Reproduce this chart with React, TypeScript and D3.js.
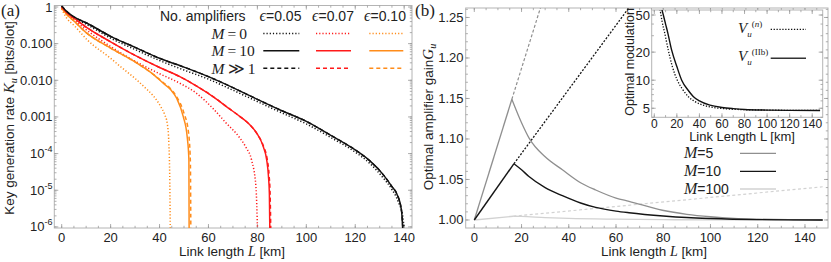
import React from "react";
import * as d3 from "d3";

// ---------------- Panel (a): key generation rate ----------------
const aXTicks = [0, 20, 40, 60, 80, 100, 120, 140];
const aYTicks = [1, 0.1, 0.01, 0.001, 1e-4, 1e-5, 1e-6];
const aYTickLabels = ["1", "0.100", "0.010", "0.001", "10^-4", "10^-5", "10^-6"];
const epsLabels = ["0.05", "0.07", "0.10"];
const ampLabels = ["0", "10", "≫1"];

// eps = 0.05
const lenE05M0 = [0, 2, 5, 10, 20, 30, 40, 50, 60, 70, 80, 90, 100, 110, 120, 126, 131, 135, 137.5, 139.5, 140.2];
const logKE05M0 = [0.0, -0.15, -0.3, -0.47, -0.85, -1.16, -1.46, -1.72, -1.97, -2.27, -2.58, -2.89, -3.19, -3.56, -3.96, -4.27, -4.63, -4.98, -5.3, -5.75, -6.2];
const lenE05M10 = [0, 2, 5, 10, 20, 30, 40, 50, 60, 70, 80, 90, 100, 110, 120, 126, 131, 135, 137, 138.9, 139.5];
const logKE05M10 = [0.03, -0.12, -0.27, -0.43, -0.8, -1.1, -1.4, -1.64, -1.9, -2.2, -2.52, -2.83, -3.12, -3.5, -3.9, -4.2, -4.54, -4.9, -5.1, -5.55, -6.2];
const lenE05Minf = [0, 2, 5, 10, 20, 30, 40, 50, 60, 70, 80, 90, 100, 110, 120, 126, 131, 135, 137, 138.9, 139.6];
const logKE05Minf = [0.03, -0.12, -0.27, -0.43, -0.8, -1.1, -1.4, -1.64, -1.9, -2.2, -2.52, -2.83, -3.12, -3.5, -3.9, -4.2, -4.54, -4.9, -5.1, -5.55, -6.2];
// eps = 0.07
const lenE07M0 = [0, 5, 10, 20, 30, 40, 48.3, 55, 62, 67, 72.9, 75.5, 77.6, 79.4, 80.1];
const logKE07M0 = [-0.03, -0.35, -0.62, -1.08, -1.48, -1.82, -2.08, -2.35, -2.78, -3.15, -3.58, -3.85, -4.17, -4.9, -6.2];
const lenE07M10 = [0, 2, 5, 10, 20, 30, 40, 48.3, 55, 62, 68, 72.9, 77, 79.7, 82.4, 83.8, 84.5, 84.9, 85.1];
const logKE07M10 = [0.0, -0.15, -0.3, -0.55, -0.95, -1.32, -1.65, -1.9, -2.15, -2.45, -2.75, -2.99, -3.22, -3.44, -3.81, -4.17, -4.6, -5.1, -6.2];
const lenE07Minf = [0, 2, 5, 10, 20, 30, 40, 48.3, 55, 62, 68, 72.9, 77, 79.7, 82.5, 84.0, 84.8, 85.2, 85.5];
const logKE07Minf = [0.0, -0.15, -0.3, -0.55, -0.95, -1.32, -1.65, -1.9, -2.15, -2.45, -2.75, -2.99, -3.22, -3.44, -3.8, -4.15, -4.6, -5.1, -6.2];
// eps = 0.10
const lenE10M0 = [0, 2, 5, 10.5, 20, 24.1, 30, 35, 37.4, 40.5, 42, 43.2, 43.8, 44.2, 44.4];
const logKE10M0 = [-0.05, -0.3, -0.5, -0.9, -1.4, -1.63, -1.95, -2.26, -2.42, -2.72, -2.92, -3.2, -3.72, -4.8, -6.2];
const lenE10M10 = [0, 2, 5, 10, 20, 30, 37.7, 41.5, 44.5, 47, 49.7, 51.3, 52, 52.1];
const logKE10M10 = [-0.02, -0.2, -0.38, -0.7, -1.12, -1.5, -1.85, -2.08, -2.25, -2.49, -2.99, -3.54, -4.17, -6.2];
const lenE10Minf = [0, 2, 5, 10, 20, 30, 37.7, 41.5, 44.5, 47, 50, 51.8, 52.6, 52.8];
const logKE10Minf = [-0.02, -0.2, -0.38, -0.7, -1.12, -1.5, -1.85, -2.06, -2.23, -2.45, -2.9, -3.4, -4.2, -6.2];

// ---------------- Panel (b): optimal amplifier gain ----------------
const bXTicks = [0, 20, 40, 60, 80, 100, 120, 140];
const bYTicks = [1.0, 1.05, 1.1, 1.15, 1.2, 1.25];
const bYTickLabels = ["1.00", "1.05", "1.10", "1.15", "1.20", "1.25"];
const gainLabels = ["5", "10", "100"];

const lenM5 = [0, 15.9, 20, 23.2, 30, 37.3, 45, 51.4, 60, 65.5, 79.6, 90, 100, 110, 120, 135, 147.5];
const gainM5 = [1.0, 1.149, 1.12, 1.101, 1.078, 1.062, 1.046, 1.037, 1.027, 1.023, 1.012, 1.007, 1.004, 1.002, 1.001, 1.0003, 1.0];
const lenM5Ext = [15.9, 30];
const gainM5Ext = [1.149, 1.2805];
const lenM10 = [0, 16.8, 20, 23, 30, 37.3, 45, 51.4, 60, 65.5, 80, 90, 100, 120, 147.5];
const gainM10 = [1.0, 1.0695, 1.062, 1.054, 1.04, 1.03, 1.021, 1.0155, 1.011, 1.009, 1.005, 1.003, 1.0018, 1.0005, 1.0];
const lenM10Ext = [16.8, 70];
const gainM10Ext = [1.0695, 1.28];
const lenM100 = [0, 16.5, 20, 30, 40, 60, 80, 100, 147.5];
const gainM100 = [1.0, 1.0046, 1.0044, 1.003, 1.002, 1.001, 1.0004, 1.0001, 1.0];
const lenM100Ext = [16.5, 147.5];
const gainM100Ext = [1.0046, 1.041];

// inset: optimal modulation
const iXTicks = [0, 20, 40, 60, 80, 100, 120, 140];
const iYTicks = [5, 10, 20, 50];
const lenVn = [4.5, 5.7, 7, 9, 12.4, 16, 20.4, 25, 30.2, 36, 43.4, 52, 61.8, 75, 100, 120, 147];
const modVn = [62, 52, 42, 33, 21, 14, 10, 8, 6.65, 5.9, 5.4, 5.1, 4.95, 4.85, 4.78, 4.75, 4.74];
const lenVIIb = [6, 8, 10, 12, 15.4, 20, 24.3, 30, 34.5, 40, 49.4, 60, 70, 80, 100, 120, 147];
const modVIIb = [62, 50, 40, 32, 21, 14, 10, 7.8, 6.7, 6.0, 5.4, 5.1, 4.95, 4.85, 4.78, 4.75, 4.74];

// ---------------- layout ----------------
const SANS = "'Liberation Sans', Arial, sans-serif";
const SERIF = "'Liberation Serif', 'DejaVu Serif', serif";
const FRAME = "#b4b4b4";
const TICK = "#9a9a9a";
const TXT = "#222";
const BLACK = "#111";
const RED = "#ff1a1a";
const ORANGE = "#ff8c1a";
const DOT = "1.2,2";
const DASH = "4,3";

const A = { left: 54.3, right: 412, top: 5.5, bottom: 228 };
const B = { left: 465.7, right: 828, top: 8, bottom: 228 };
const I = { left: 651.7, right: 822.7, top: 10, bottom: 117.3 };

const xA = d3.scaleLinear().domain([-3.02, 143.2]).range([A.left, A.right]);
const yA = d3.scaleLog().domain([Math.pow(10, -6.03), Math.pow(10, 0.041)]).range([A.bottom, A.top]);
const xB = d3.scaleLinear().domain([-3.64, 149.75]).range([B.left, B.right]);
const yB = d3.scaleLinear().domain([0.9901, 1.2617]).range([B.bottom, B.top]);
const xI = d3.scaleLinear().domain([-2.3, 149.3]).range([I.left, I.right]);
const yI = d3.scaleLog().domain([4.0, 56.6]).range([I.bottom, I.top]);

const zip = (a: number[], b: number[]) => a.map((v, i) => [v, b[i]] as [number, number]);

const lineA = d3.line<[number, number]>().x(d => xA(d[0])).y(d => yA(Math.pow(10, d[1]))).curve(d3.curveMonotoneX);
const lineBLin = d3.line<[number, number]>().x(d => xB(d[0])).y(d => yB(d[1]));
const lineBCurve = d3.line<[number, number]>().x(d => xB(d[0])).y(d => yB(d[1])).curve(d3.curveMonotoneX);
const lineI = d3.line<[number, number]>().x(d => xI(d[0])).y(d => yI(d[1])).curve(d3.curveMonotoneX);

const aSeries = [
  { d: zip(lenE05M0, logKE05M0), c: BLACK, dash: DOT },
  { d: zip(lenE07M0, logKE07M0), c: RED, dash: DOT },
  { d: zip(lenE10M0, logKE10M0), c: ORANGE, dash: DOT },
  { d: zip(lenE10Minf, logKE10Minf), c: ORANGE, dash: DASH },
  { d: zip(lenE07Minf, logKE07Minf), c: RED, dash: DASH },
  { d: zip(lenE05Minf, logKE05Minf), c: BLACK, dash: DASH },
  { d: zip(lenE10M10, logKE10M10), c: ORANGE, dash: "" },
  { d: zip(lenE07M10, logKE07M10), c: RED, dash: "" },
  { d: zip(lenE05M10, logKE05M10), c: BLACK, dash: "" },
];
const legendColors = [BLACK, RED, ORANGE];
const legendDashes = [DOT, "", DASH];

const M5C = "#8f8f8f", M10C = "#151515", M100C = "#d2d2d2";

function linTicks(lo: number, hi: number, step: number) {
  const out: number[] = [];
  for (let v = Math.ceil(lo / step - 1e-9) * step; v <= hi + 1e-9; v += step) out.push(+v.toFixed(6));
  return out;
}
function logMinor(lo: number, hi: number) {
  const out: number[] = [];
  for (let e = Math.floor(Math.log10(lo)) - 1; e <= Math.ceil(Math.log10(hi)); e++)
    for (let m = 1; m < 10; m++) {
      const v = m * Math.pow(10, e);
      if (v >= lo && v <= hi) out.push(v);
    }
  return out;
}

function Frame({ box, xMaj, xMin, yMaj, yMin, xs, ys, fill }: any) {
  const els: any[] = [];
  const L = 4, l = 2.2;
  xMin.forEach((v: number, i: number) => {
    const x = xs(v);
    els.push(<line key={"xb" + i} x1={x} x2={x} y1={box.bottom} y2={box.bottom - l} />);
    els.push(<line key={"xt" + i} x1={x} x2={x} y1={box.top} y2={box.top + l} />);
  });
  xMaj.forEach((v: number, i: number) => {
    const x = xs(v);
    els.push(<line key={"XB" + i} x1={x} x2={x} y1={box.bottom} y2={box.bottom - L} />);
    els.push(<line key={"XT" + i} x1={x} x2={x} y1={box.top} y2={box.top + L} />);
  });
  yMin.forEach((v: number, i: number) => {
    const y = ys(v);
    els.push(<line key={"yl" + i} x1={box.left} x2={box.left + l} y1={y} y2={y} />);
    els.push(<line key={"yr" + i} x1={box.right} x2={box.right - l} y1={y} y2={y} />);
  });
  yMaj.forEach((v: number, i: number) => {
    const y = ys(v);
    els.push(<line key={"YL" + i} x1={box.left} x2={box.left + L} y1={y} y2={y} />);
    els.push(<line key={"YR" + i} x1={box.right} x2={box.right - L} y1={y} y2={y} />);
  });
  return (
    <g>
      <rect x={box.left} y={box.top} width={box.right - box.left} height={box.bottom - box.top}
        fill={fill || "none"} stroke={FRAME} strokeWidth={1} />
      <g stroke={TICK} strokeWidth={0.8}>{els}</g>
    </g>
  );
}

function PowLabel({ s, x, y }: any) {
  if (s.indexOf("^") < 0) return <text x={x} y={y} textAnchor="end">{s}</text>;
  const [b, e] = s.split("^");
  return (
    <text x={x} y={y} textAnchor="end">
      {b}<tspan dy={-6} fontSize={9}>{e}</tspan>
    </text>
  );
}

export default function App() {
  const aXMin = linTicks(0, 143, 5);
  const aYMin = logMinor(1e-6, 1.1);
  const bXMin = linTicks(0, 149, 5);
  const bYMin = linTicks(1.0, 1.26, 0.01);
  const iXMin = linTicks(0, 149, 10);
  const iYMin = logMinor(4, 56);

  return (
    <svg width={831} height={262} viewBox="0 0 831 262"
      style={{ position: "absolute", left: 0, top: 0, background: "#fff" }}
      fontFamily={SANS} fill={TXT}>
      <defs>
        <clipPath id="clipA"><rect x={A.left} y={A.top} width={A.right - A.left} height={A.bottom - A.top} /></clipPath>
        <clipPath id="clipB"><rect x={B.left} y={B.top} width={B.right - B.left} height={B.bottom - B.top} /></clipPath>
        <clipPath id="clipI"><rect x={I.left} y={I.top} width={I.right - I.left} height={I.bottom - I.top} /></clipPath>
      </defs>

      {/* ================= Panel (a) ================= */}
      <Frame box={A} xMaj={aXTicks} xMin={aXMin} yMaj={aYTicks} yMin={aYMin} xs={xA} ys={yA} />
      <g clipPath="url(#clipA)" fill="none">
        {aSeries.map((s, i) => (
          <path key={i} d={lineA(s.d) || ""} stroke={s.c} strokeWidth={1.5}
            strokeDasharray={s.dash || undefined} />
        ))}
      </g>
      <g fontSize={13}>
        {aXTicks.map((v, i) => (
          <text key={i} x={xA(v)} y={241.5} textAnchor="middle">{v}</text>
        ))}
        {aYTicks.map((v, i) => (
          <PowLabel key={i} s={aYTickLabels[i]} x={52.5} y={yA(v) + 4.5} />
        ))}
      </g>
      <text x={232} y={256} textAnchor="middle" fontSize={13.5}>
        Link length <tspan fontFamily={SERIF} fontStyle="italic" fontSize={14}>L</tspan> [km]
      </text>
      <text transform="translate(14,118) rotate(-90)" textAnchor="middle" fontSize={13.5}>
        Key generation rate <tspan fontFamily={SERIF} fontStyle="italic" fontSize={15}>K</tspan>
        <tspan fontFamily={SERIF} fontStyle="italic" fontSize={10} dy={3}>u</tspan>
        <tspan dy={-3}> [bits/slot]</tspan>
      </text>
      <text x={1} y={16} fontFamily={SERIF} fontSize={17}>(a)</text>

      {/* legend (a) */}
      <g fontSize={14}>
        <text x={160} y={21}>No. amplifiers</text>
        {epsLabels.map((e, j) => (
          <text key={j} x={[280.5, 333, 385][j]} y={21} textAnchor="middle">
            <tspan fontFamily={SERIF} fontStyle="italic" fontSize={16}>ϵ</tspan>={e}
          </text>
        ))}
        {ampLabels.map((m, r) => (
          <text key={r} x={211.5} y={[38.5, 56, 73.5][r]} fontFamily={SERIF} fontSize={15.5}>
            <tspan fontStyle="italic">M</tspan>{m === "≫1" ? "\u2009≫\u20091" : "\u2009=\u2009" + m}
          </text>
        ))}
        {ampLabels.map((m, r) =>
          legendColors.map((c, j) => (
            <line key={r + "-" + j} x1={[263.3, 316, 369.3][j]} x2={[299.3, 351, 403.3][j]}
              y1={[33.5, 50.7, 68.3][r]} y2={[33.5, 50.7, 68.3][r]}
              stroke={c} strokeWidth={1.6} strokeDasharray={legendDashes[r] || undefined} />
          ))
        )}
      </g>

      {/* ================= Panel (b) ================= */}
      <Frame box={B} xMaj={bXTicks} xMin={bXMin} yMaj={bYTicks} yMin={bYMin} xs={xB} ys={yB} />
      <g clipPath="url(#clipB)" fill="none">
        <path d={lineBLin(zip(lenM100Ext, gainM100Ext)) || ""} stroke={M100C} strokeWidth={1.2} strokeDasharray="3,2.5" />
        <path d={lineBLin(zip(lenM5Ext, gainM5Ext)) || ""} stroke={M5C} strokeWidth={1.2} strokeDasharray="3,2" />
        <path d={lineBLin(zip(lenM10Ext, gainM10Ext)) || ""} stroke={M10C} strokeWidth={1.3} strokeDasharray="2,1.6" />
        <path d={lineBLin(zip(lenM100, gainM100).slice(0, 2)) || ""} stroke={M100C} strokeWidth={1.3} />
        <path d={lineBCurve(zip(lenM100, gainM100).slice(1)) || ""} stroke={M100C} strokeWidth={1.3} />
        <path d={lineBLin(zip(lenM5, gainM5).slice(0, 2)) || ""} stroke={M5C} strokeWidth={1.3} />
        <path d={lineBCurve(zip(lenM5, gainM5).slice(1)) || ""} stroke={M5C} strokeWidth={1.3} />
        <path d={lineBLin(zip(lenM10, gainM10).slice(0, 2)) || ""} stroke={M10C} strokeWidth={1.4} />
        <path d={lineBCurve(zip(lenM10, gainM10).slice(1)) || ""} stroke={M10C} strokeWidth={1.4} />
      </g>
      <g fontSize={13}>
        {bXTicks.map((v, i) => (
          <text key={i} x={xB(v)} y={241.5} textAnchor="middle">{v}</text>
        ))}
        {bYTicks.map((v, i) => (
          <text key={i} x={463.5} y={yB(v) + 4.5} textAnchor="end">{bYTickLabels[i]}</text>
        ))}
      </g>
      <text x={654} y={256} textAnchor="middle" fontSize={13.5}>
        Link length <tspan fontFamily={SERIF} fontStyle="italic" fontSize={14}>L</tspan> [km]
      </text>
      <text transform="translate(433,117) rotate(-90)" textAnchor="middle" fontSize={13.5}>
        Optimal amplifier gain<tspan fontFamily={SERIF} fontStyle="italic" fontSize={15}>G</tspan>
        <tspan fontFamily={SERIF} fontStyle="italic" fontSize={10} dy={3}>u</tspan>
      </text>
      <text x={415} y={16} fontFamily={SERIF} fontSize={17}>(b)</text>

      {/* legend (b) */}
      <g fontSize={14}>
        {gainLabels.map((g, r) => (
          <g key={r}>
            <text x={684} y={[158.3, 176.3, 194][r]}>
              <tspan fontFamily={SERIF} fontStyle="italic" fontSize={16}>M</tspan>={g}
            </text>
            <line x1={740} x2={776} y1={[153.3, 171.3, 189][r]} y2={[153.3, 171.3, 189][r]}
              stroke={[M5C, M10C, M100C][r]} strokeWidth={1.3} />
          </g>
        ))}
      </g>

      {/* inset */}
      <Frame box={I} xMaj={iXTicks} xMin={iXMin} yMaj={iYTicks} yMin={iYMin} xs={xI} ys={yI} fill="#fff" />
      <g clipPath="url(#clipI)" fill="none">
        <path d={lineI(zip(lenVn, modVn)) || ""} stroke={BLACK} strokeWidth={1.3} strokeDasharray="1.3,1.6" />
        <path d={lineI(zip(lenVIIb, modVIIb)) || ""} stroke={BLACK} strokeWidth={1.4} />
      </g>
      <g fontSize={12}>
        {iXTicks.map((v, i) => (
          <text key={i} x={xI(v)} y={127.5} textAnchor="middle">{v}</text>
        ))}
        {iYTicks.map((v, i) => (
          <text key={i} x={650} y={yI(v) + 4.5} textAnchor="end" fontSize={13}>{v}</text>
        ))}
      </g>
      <text x={742} y={141} textAnchor="middle" fontSize={13}>Link Length L [km]</text>
      <text transform="translate(634,62) rotate(-90)" textAnchor="middle" fontSize={12.5}>Optimal modulation</text>
      <g>
        <text x={738} y={33} fontFamily={SERIF} fontStyle="italic" fontSize={15}>
          V<tspan fontSize={9} dy={4}>u</tspan><tspan fontSize={9} dy={-10} fontStyle="normal">(</tspan><tspan fontSize={9}>n</tspan><tspan fontSize={9} fontStyle="normal">)</tspan>
        </text>
        <line x1={770.7} x2={806} y1={29.3} y2={29.3} stroke={BLACK} strokeWidth={1.3} strokeDasharray="1.3,1.6" />
        <text x={738} y={61} fontFamily={SERIF} fontStyle="italic" fontSize={15}>
          V<tspan fontSize={9} dy={4}>u</tspan><tspan fontSize={9} dy={-10} fontStyle="normal">(IIb)</tspan>
        </text>
        <line x1={770.7} x2={806} y1={58.3} y2={58.3} stroke={"#333"} strokeWidth={1.6} />
      </g>
    </svg>
  );
}
